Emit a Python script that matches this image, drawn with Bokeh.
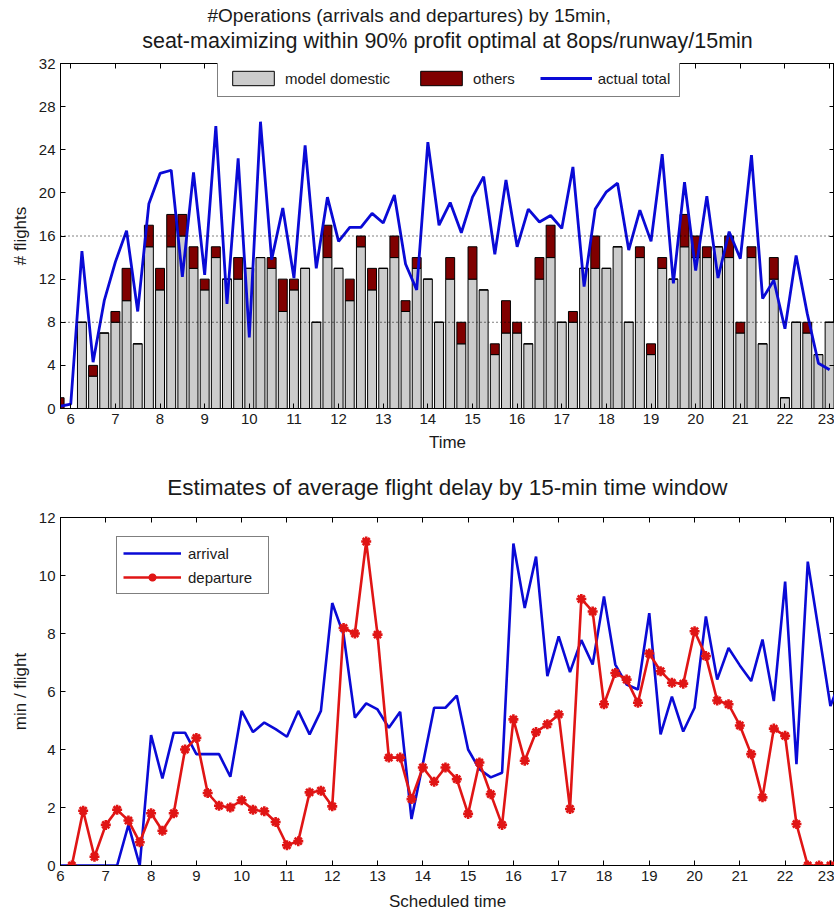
from bokeh.plotting import figure
from bokeh.models import (ColumnDataSource, FixedTicker, LinearAxis, Range1d,
                          Span, Title, Legend, LegendItem)
from bokeh.layouts import column
from bokeh.embed import file_html
from bokeh.resources import INLINE

# ---------------- data: top panel (15-min bins) ----------------
bin_time = [5.75, 6.0, 6.25, 6.5, 6.75, 7.0, 7.25, 7.5, 7.75, 8.0, 8.25, 8.5, 8.75,
            9.0, 9.25, 9.5, 9.75, 10.0, 10.25, 10.5, 10.75, 11.0, 11.25, 11.5, 11.75,
            12.0, 12.25, 12.5, 12.75, 13.0, 13.25, 13.5, 13.75, 14.0, 14.25, 14.5, 14.75,
            15.0, 15.25, 15.5, 15.75, 16.0, 16.25, 16.5, 16.75, 17.0, 17.25, 17.5, 17.75,
            18.0, 18.25, 18.5, 18.75, 19.0, 19.25, 19.5, 19.75, 20.0, 20.25, 20.5, 20.75,
            21.0, 21.25, 21.5, 21.75, 22.0, 22.25, 22.5, 22.75, 23.0]
model_domestic = [0, 0, 8, 3, 7, 8, 10, 6, 15, 11, 15, 16, 13,
                  11, 14, 12, 12, 13, 14, 13, 9, 11, 13, 8, 14,
                  13, 10, 15, 11, 13, 14, 9, 13, 12, 8, 12, 6,
                  12, 11, 5, 7, 7, 6, 12, 14, 8, 8, 13, 13,
                  13, 15, 8, 14, 5, 13, 12, 15, 14, 14, 15, 14,
                  7, 14, 6, 12, 1, 8, 7, 5, 8]
others = [1, 0, 0, 1, 0, 1, 3, 0, 2, 2, 3, 2, 2,
          1, 1, 0, 2, 0, 0, 1, 3, 1, 0, 0, 3,
          0, 2, 1, 2, 0, 2, 1, 1, 0, 0, 2, 2,
          3, 0, 1, 3, 1, 0, 2, 3, 0, 1, 0, 3,
          0, 0, 0, 1, 1, 1, 0, 3, 2, 1, 0, 2,
          1, 1, 0, 2, 0, 0, 1, 0, 0]
actual_total = [0.2, 0.4, 14.6, 4.3, 10.0, 13.6, 16.5, 9.0, 19.0, 21.8, 22.1, 12.2, 21.9,
                12.4, 26.2, 9.7, 23.2, 6.6, 26.6, 13.8, 18.6, 12.1, 24.4, 13.0, 19.6,
                15.5, 16.8, 16.8, 18.1, 17.2, 19.8, 13.4, 11.0, 24.7, 17.0, 19.1, 16.3,
                19.6, 21.5, 14.3, 21.2, 15.0, 18.5, 17.3, 17.9, 16.7, 22.4, 11.3, 18.5,
                20.1, 20.9, 14.7, 18.4, 15.5, 23.6, 11.6, 21.0, 12.8, 19.7, 12.1, 16.4,
                13.9, 23.5, 10.2, 11.9, 7.4, 14.2, 8.8, 4.2, 3.6]
capacity_levels = [8, 16]
top_xticks = [6, 7, 8, 9, 10, 11, 12, 13, 14, 15, 16, 17, 18, 19, 20, 21, 22, 23]
top_yticks = [0, 4, 8, 12, 16, 20, 24, 28, 32]

# ---------------- data: bottom panel ----------------
arr_time = [6.0, 6.25, 6.5, 6.75, 7.0, 7.25, 7.5, 7.75, 8.0, 8.25, 8.5, 8.75,
            9.0, 9.25, 9.5, 9.75, 10.0, 10.25, 10.5, 10.75, 11.0, 11.25, 11.5, 11.75,
            12.0, 12.25, 12.5, 12.75, 13.0, 13.25, 13.5, 13.75, 14.0, 14.25, 14.5, 14.75,
            15.0, 15.25, 15.5, 15.75, 16.0, 16.25, 16.5, 16.75, 17.0, 17.25, 17.5, 17.75,
            18.0, 18.25, 18.5, 18.75, 19.0, 19.25, 19.5, 19.75, 20.0, 20.25, 20.5, 20.75,
            21.0, 21.25, 21.5, 21.75, 22.0, 22.25, 22.5, 22.75, 23.0, 23.25]
arrival_delay = [0, 0, 0, 0, 0, 0, 1.4, 0, 4.5, 3.0, 4.58, 4.58,
                 3.84, 3.84, 3.84, 3.06, 5.33, 4.6, 4.93, 4.7, 4.44, 5.33, 4.52, 5.33,
                 9.05, 7.96, 5.1, 5.59, 5.38, 4.75, 5.3, 1.6, 3.5, 5.44, 5.44, 5.86,
                 4.0, 3.32, 3.04, 3.2, 11.1, 8.88, 10.65, 6.53, 7.9, 6.67, 7.77, 6.93,
                 9.28, 6.93, 6.24, 6.07, 8.7, 4.52, 5.82, 4.62, 5.44, 8.59, 6.41, 7.5,
                 6.9, 6.36, 7.79, 5.67, 9.79, 3.49, 10.48, 8.0, 5.5, 6.5]
dep_time = [6.25, 6.5, 6.75, 7.0, 7.25, 7.5, 7.75, 8.0, 8.25, 8.5, 8.75,
            9.0, 9.25, 9.5, 9.75, 10.0, 10.25, 10.5, 10.75, 11.0, 11.25, 11.5, 11.75,
            12.0, 12.25, 12.5, 12.75, 13.0, 13.25, 13.5, 13.75, 14.0, 14.25, 14.5, 14.75,
            15.0, 15.25, 15.5, 15.75, 16.0, 16.25, 16.5, 16.75, 17.0, 17.25, 17.5, 17.75,
            18.0, 18.25, 18.5, 18.75, 19.0, 19.25, 19.5, 19.75, 20.0, 20.25, 20.5, 20.75,
            21.0, 21.25, 21.5, 21.75, 22.0, 22.25, 22.5, 22.75, 23.0, 23.25]
departure_delay = [0, 1.89, 0.3, 1.4, 1.92, 1.55, 0.8, 1.8, 1.2, 1.8, 4.0,
                   4.4, 2.5, 2.06, 2.0, 2.25, 1.92, 1.87, 1.5, 0.7, 0.84, 2.52, 2.58,
                   2.04, 8.19, 8.0, 11.17, 7.96, 3.72, 3.72, 2.29, 3.38, 2.89, 3.38, 2.98,
                   1.78, 3.55, 2.46, 1.4, 5.04, 3.61, 4.6, 4.87, 5.21, 1.95, 9.19, 8.76,
                   5.56, 6.64, 6.41, 5.61, 7.31, 6.7, 6.3, 6.27, 8.08, 7.22, 5.69, 5.56,
                   4.83, 3.84, 2.35, 4.72, 4.47, 1.43, 0, 0, 0, 0]
bot_xticks = top_xticks
bot_yticks = [0, 2, 4, 6, 8, 10, 12]

title_top_1 = "#Operations (arrivals and departures) by 15min,"
title_top_2 = "seat-maximizing within 90% profit optimal at 8ops/runway/15min"
title_bottom = "Estimates of average flight delay by 15-min time window"

FONT = "Liberation Sans"
TXT = "#1a1a1a"
BLUE = "#0a0ad6"
RED = "#e01515"
GRAY = "#cccccc"
DARKRED = "#800000"


def box_axis(ticks, label=None, label_size="20px", label_standoff=0):
    ax = LinearAxis(ticker=FixedTicker(ticks=ticks), major_tick_in=5,
                    major_tick_out=0, minor_tick_line_color=None,
                    major_label_text_font_size="0px", major_label_text_color=None,
                    major_label_standoff=0, axis_line_color="black")
    if label is not None:
        ax.axis_label = label
        ax.axis_label_text_font = FONT
        ax.axis_label_text_font_size = label_size
        ax.axis_label_text_font_style = "normal"
        ax.axis_label_text_color = TXT
        ax.axis_label_standoff = label_standoff
    return ax


def style_axes(p, xticks, yticks, xlab_standoff, top_label, top_size, top_standoff):
    for ax in p.xaxis + p.yaxis:
        ax.major_tick_in = 5
        ax.major_tick_out = 0
        ax.minor_tick_line_color = None
        ax.axis_line_color = "black"
        ax.major_tick_line_color = "black"
        ax.major_label_text_font = FONT
        ax.major_label_text_font_size = "15px"
        ax.major_label_text_color = TXT
        ax.axis_label_text_font = FONT
        ax.axis_label_text_font_size = "17px"
        ax.axis_label_text_font_style = "normal"
        ax.axis_label_text_color = TXT
    p.xaxis.ticker = FixedTicker(ticks=xticks)
    p.yaxis.ticker = FixedTicker(ticks=yticks)
    p.xaxis.major_label_standoff = 5
    p.yaxis.major_label_standoff = 5
    p.xaxis.axis_label_standoff = xlab_standoff
    p.yaxis.axis_label_standoff = 6
    # top box axis carries the (last line of the) panel title
    p.add_layout(box_axis(xticks, top_label, top_size, top_standoff), "above")
    p.add_layout(box_axis(yticks), "right")
    p.xgrid.grid_line_color = None
    p.ygrid.grid_line_color = None
    p.outline_line_color = "black"
    p.background_fill_color = "white"
    p.border_fill_color = "white"


# ---------------- top figure ----------------
p1 = figure(width=834, height=460, output_backend="svg", toolbar_location=None,
            x_range=Range1d(5.77, 23.11), y_range=Range1d(0, 32),
            min_border_left=60, min_border_right=0, min_border_top=63,
            min_border_bottom=52, x_axis_label="Time", y_axis_label="# flights")
p1.title = None

stack_top = [d + o for d, o in zip(model_domestic, others)]
src1 = ColumnDataSource(dict(t=bin_time, dom=model_domestic, top=stack_top,
                             tot=actual_total))
r_dom = p1.vbar(x="t", width=0.2, bottom=0, top="dom", source=src1,
                fill_color=GRAY, line_color="black", line_width=1)
r_oth = p1.vbar(x="t", width=0.2, bottom="dom", top="top", source=src1,
                fill_color=DARKRED, line_color="black", line_width=1)
for lvl in capacity_levels:
    p1.add_layout(Span(location=lvl, dimension="width", line_color="black",
                       line_dash="1 3", line_width=1))
r_tot = p1.line(x="t", y="tot", source=src1, line_color=BLUE, line_width=2.8)

style_axes(p1, top_xticks, top_yticks, 6, title_top_2, "21.5px", 11)

leg1 = Legend(items=[LegendItem(label="model domestic", renderers=[r_dom]),
                     LegendItem(label="others", renderers=[r_oth]),
                     LegendItem(label="actual total", renderers=[r_tot])],
              orientation="horizontal", location=(157, 311),
              label_text_font=FONT, label_text_font_size="15px",
              label_text_color=TXT, glyph_width=52, glyph_height=18,
              label_standoff=6, spacing=25, padding=9, margin=0,
              border_line_color="black", border_line_width=1,
              background_fill_alpha=1)
p1.add_layout(leg1, "center")

p1.add_layout(Title(text=title_top_1, align="left", offset=147, text_font=FONT,
                    text_font_size="19px", text_font_style="normal",
                    text_color=TXT, standoff=0), "above")

# ---------------- bottom figure ----------------
p2 = figure(width=834, height=453, output_backend="svg", toolbar_location=None,
            x_range=Range1d(6.0, 23.09), y_range=Range1d(0, 12),
            min_border_left=60, min_border_right=0, min_border_top=57,
            min_border_bottom=46, x_axis_label="Scheduled time",
            y_axis_label="min / flight")
p2.title = None
src_a = ColumnDataSource(dict(t=arr_time, y=arrival_delay))
src_d = ColumnDataSource(dict(t=dep_time, y=departure_delay))
r_arr = p2.line(x="t", y="y", source=src_a, line_color=BLUE, line_width=2.6)
r_dep_l = p2.line(x="t", y="y", source=src_d, line_color=RED, line_width=2.6)
r_dep_m = p2.scatter(x="t", y="y", source=src_d, marker="asterisk", size=10,
                     line_color=RED, line_width=2.6)
style_axes(p2, bot_xticks, bot_yticks, 8, title_bottom, "22.5px", 18)

leg2 = Legend(items=[LegendItem(label="arrival", renderers=[r_arr]),
                     LegendItem(label="departure", renderers=[r_dep_l, r_dep_m])],
              orientation="vertical", location=(56, 271),
              label_text_font=FONT, label_text_font_size="15px",
              label_text_color=TXT, glyph_width=58, glyph_height=20,
              label_standoff=7, label_width=74, spacing=4, padding=6, margin=0,
              border_line_color="black", border_line_width=1,
              background_fill_alpha=1)
p2.add_layout(leg2, "center")

layout = column(p1, p2, spacing=0)
open("out.html", "w").write(file_html(layout, INLINE))
